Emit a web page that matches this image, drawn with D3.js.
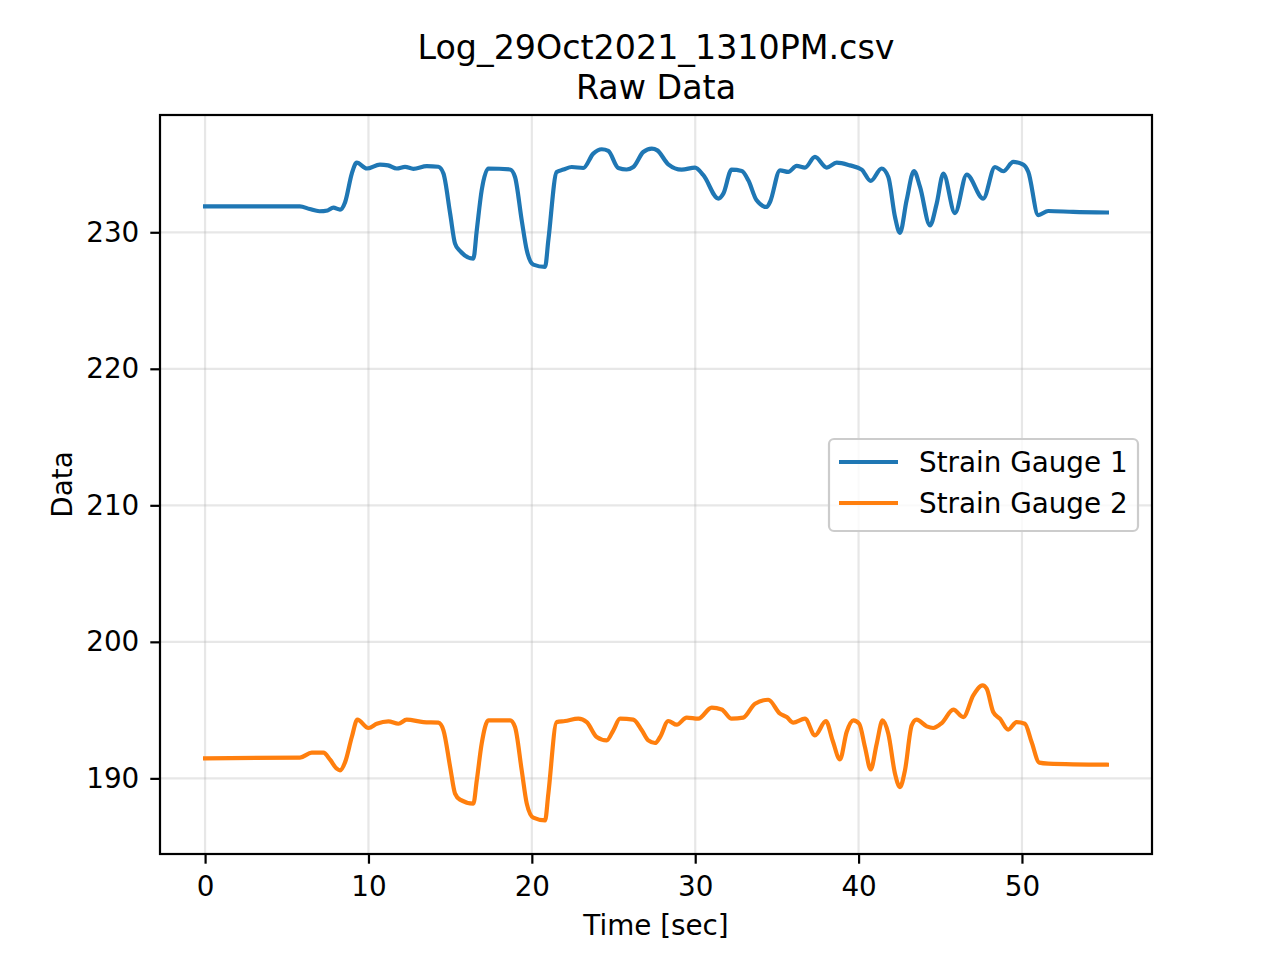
<!DOCTYPE html>
<html>
<head>
<meta charset="utf-8">
<script src="https://cdn.jsdelivr.net/npm/d3@7"></script>
<style>
  body { margin: 0; background: #fff; }
  svg { font-family: "DejaVu Sans", sans-serif; }
</style>
</head>
<body>
<svg id="chart"></svg>
<script>
const titleLines = ["Log_29Oct2021_1310PM.csv", "Raw Data"]
const seriesNames = ["Strain Gauge 1", "Strain Gauge 2"]
const xTicks = [0, 10, 20, 30, 40, 50]
const yTicks = [190, 200, 210, 220, 230]

const timeS1 = [0, 5.8, 6.4, 7.0, 7.5, 7.85, 8.26, 8.57, 8.98, 9.28, 9.9, 10.7, 11.2, 11.73, 12.24, 12.75, 13.57, 14.28, 14.59, 15.0,
    15.3, 15.6, 16.42, 16.63, 16.93, 17.34, 18.67, 18.97, 19.38, 19.69, 20.09, 20.81, 21.01, 21.52, 21.93, 22.44, 23.15, 23.76, 24.28, 24.68,
    25.29, 25.8, 26.21, 26.82, 27.34, 27.68, 28.35, 29.17, 29.99, 30.5, 31.42, 31.72, 32.23, 32.85, 33.25, 33.76, 34.38, 34.58, 35.19, 35.7,
    36.21, 36.72, 37.33, 38.05, 38.66, 39.47, 40.19, 40.74, 41.41, 41.82, 42.23, 42.53, 42.94, 43.39, 43.76, 44.37, 44.78, 45.19, 45.9, 46.62,
    47.63, 48.35, 48.86, 49.47, 50.08, 50.39, 51.0, 51.61, 53.14, 55.2]
const gauge1 = [231.9, 231.9, 231.7, 231.54, 231.6, 231.8, 231.66, 232.2, 234.3, 235.1, 234.67, 234.96, 234.9, 234.67, 234.79, 234.65, 234.84, 234.8, 234.3, 231.37,
    229.17, 228.63, 228.07, 230.15, 233.08, 234.67, 234.6, 234.05, 230.88, 228.68, 227.63, 227.46, 229.41, 234.42, 234.59, 234.78, 234.71, 235.76, 236.08, 235.96,
    234.71, 234.6, 234.78, 235.88, 236.13, 236.0, 234.98, 234.59, 234.74, 234.18, 232.47, 232.83, 234.59, 234.49, 233.81, 232.34, 231.85, 232.22, 234.54, 234.42,
    234.86, 234.74, 235.52, 234.74, 235.1, 234.9, 234.59, 233.76, 234.67, 234.05, 231.12, 229.95, 232.34, 234.49, 233.32, 230.51, 232.1, 234.3, 231.41, 234.23,
    232.47, 234.78, 234.47, 235.15, 234.96, 234.42, 231.25, 231.56, 231.49, 231.45]

const timeS2 = [0, 5.81, 6.53, 7.24, 7.65, 8.06, 8.26, 8.57, 8.98, 9.32, 10.0, 10.51, 11.22, 11.83, 12.34, 13.36, 14.28, 14.59, 15.0, 15.3,
    15.6, 16.42, 16.63, 16.93, 17.34, 18.67, 18.97, 19.38, 19.69, 20.09, 20.81, 21.01, 21.52, 22.03, 22.85, 23.36, 23.97, 24.58, 24.99, 25.4,
    26.21, 26.73, 27.13, 27.54, 27.85, 28.35, 28.87, 29.48, 30.19, 31.01, 31.62, 32.23, 32.94, 33.66, 34.47, 35.19, 35.6, 36.0, 36.72, 37.33,
    38.0, 38.41, 38.86, 39.27, 39.68, 40.04, 40.39, 40.74, 41.11, 41.47, 41.82, 42.23, 42.53, 42.84, 43.25, 43.55, 44.17, 44.57, 45.09, 45.8,
    46.41, 47.02, 47.59, 47.84, 48.24, 48.65, 49.16, 49.67, 50.18, 50.59, 51.06, 51.61, 55.2]
const gauge2 = [191.47, 191.52, 191.88, 191.88, 191.37, 190.71, 190.59, 191.19, 193.03, 194.3, 193.69, 194.0, 194.18, 194.0, 194.3, 194.12, 194.08, 193.52, 190.83, 188.88,
    188.44, 188.15, 189.85, 192.54, 194.25, 194.25, 193.76, 190.59, 188.15, 187.12, 186.92, 188.88, 194.12, 194.2, 194.37, 194.12, 193.03, 192.78, 193.52, 194.37,
    194.3, 193.52, 192.78, 192.59, 193.03, 194.2, 193.93, 194.45, 194.37, 195.18, 195.05, 194.37, 194.45, 195.47, 195.76, 194.74, 194.49, 194.08, 194.37, 193.15,
    194.2, 192.78, 191.39, 193.4, 194.25, 194.0, 192.3, 190.66, 192.54, 194.25, 193.27, 190.34, 189.36, 190.59, 193.88, 194.3, 193.81, 193.69, 194.05, 195.03,
    194.49, 196.08, 196.81, 196.57, 194.86, 194.37, 193.57, 194.12, 194.0, 192.66, 191.15, 191.08, 191.0]

const colors = ["#1f77b4", "#ff7f0e"]

const drawChart = () => {
    const width = 1280,
        height = 960,
        left = 160, right = 1152, top = 115, bottom = 854

    const svg = d3.select("#chart")
        .attr("width", width)
        .attr("height", height)

    const series = [
        timeS1.map((t, i) => [t, gauge1[i]]),
        timeS2.map((t, i) => [t, gauge2[i]])
    ]

    // matplotlib style 5% margins
    const allT = timeS1.concat(timeS2), allV = gauge1.concat(gauge2)
    const [t0, t1] = d3.extent(allT), [v0, v1] = d3.extent(allV)
    const padT = (t1 - t0) * 0.05, padV = (v1 - v0) * 0.05

    const x = d3.scaleLinear().domain([t0 - padT, t1 + padT]).range([left, right])
    const y = d3.scaleLinear().domain([v0 - padV, v1 + padV]).range([bottom, top])

    // grid
    const grid = svg.append("g")
    grid.selectAll("line.gx").data(xTicks).join("line")
        .attr("x1", d => x(d)).attr("x2", d => x(d))
        .attr("y1", top).attr("y2", bottom)
        .attr("stroke", "#b0b0b0").attr("stroke-opacity", 0.3).attr("stroke-width", 2.2)
    grid.selectAll("line.gy").data(yTicks).join("line")
        .attr("y1", d => y(d)).attr("y2", d => y(d))
        .attr("x1", left).attr("x2", right)
        .attr("stroke", "#b0b0b0").attr("stroke-opacity", 0.3).attr("stroke-width", 2.2)

    // lines
    const line = d3.line()
        .x(d => x(d[0]))
        .y(d => y(d[1]))
        .curve(d3.curveMonotoneX)

    svg.append("g")
        .selectAll("path")
        .data(series)
        .join("path")
        .attr("d", line)
        .attr("fill", "none")
        .attr("stroke", (d, i) => colors[i])
        .attr("stroke-width", 4.2)
        .attr("stroke-linejoin", "round")
        .attr("stroke-linecap", "square")

    // axes
    const xAxis = svg.append("g")
        .attr("transform", "translate(0," + bottom + ")")
        .call(d3.axisBottom(x).tickValues(xTicks).tickSize(9.7).tickPadding(12.5).tickFormat(d3.format("d")))
    const yAxis = svg.append("g")
        .attr("transform", "translate(" + left + ",0)")
        .call(d3.axisLeft(y).tickValues(yTicks).tickSize(9.7).tickPadding(11).tickFormat(d3.format("d")))

    for (const ax of [xAxis, yAxis]) {
        ax.select(".domain").remove()
        ax.selectAll(".tick line").attr("stroke", "#000").attr("stroke-width", 2.2)
        ax.selectAll(".tick text")
            .attr("fill", "#000")
            .style("font-size", "27.8px")
            .style("font-family", "DejaVu Sans")
    }

    // frame
    svg.append("rect")
        .attr("x", left).attr("y", top)
        .attr("width", right - left).attr("height", bottom - top)
        .attr("fill", "none")
        .attr("stroke", "#000")
        .attr("stroke-width", 2.2)

    // title
    svg.append("g").selectAll("text")
        .data(titleLines)
        .join("text")
        .attr("x", (left + right) / 2)
        .attr("y", (d, i) => 59 + i * 40)
        .attr("text-anchor", "middle")
        .style("font-size", "33.3px")
        .text(d => d)

    // axis labels
    svg.append("text")
        .attr("x", (left + right) / 2).attr("y", 935)
        .attr("text-anchor", "middle")
        .style("font-size", "27.8px")
        .text("Time [sec]")
    svg.append("text")
        .attr("transform", "translate(72," + (top + bottom) / 2 + ") rotate(-90)")
        .attr("text-anchor", "middle")
        .style("font-size", "27.8px")
        .text("Data")

    // legend
    const legend = svg.append("g")
    legend.append("rect")
        .attr("x", 829).attr("y", 439)
        .attr("width", 309).attr("height", 92)
        .attr("rx", 5)
        .attr("fill", "#fff").attr("fill-opacity", 0.8)
        .attr("stroke", "#cccccc").attr("stroke-width", 2.2)
    const items = legend.selectAll("g.item")
        .data(seriesNames)
        .join("g")
        .attr("transform", (d, i) => "translate(0," + (462 + i * 41) + ")")
    items.append("line")
        .attr("x1", 839).attr("x2", 898)
        .attr("stroke", (d, i) => colors[i])
        .attr("stroke-width", 4.2)
    items.append("text")
        .attr("x", 919).attr("y", 10)
        .style("font-size", "27.8px")
        .text(d => d)
}

drawChart()
</script>
</body>
</html>
